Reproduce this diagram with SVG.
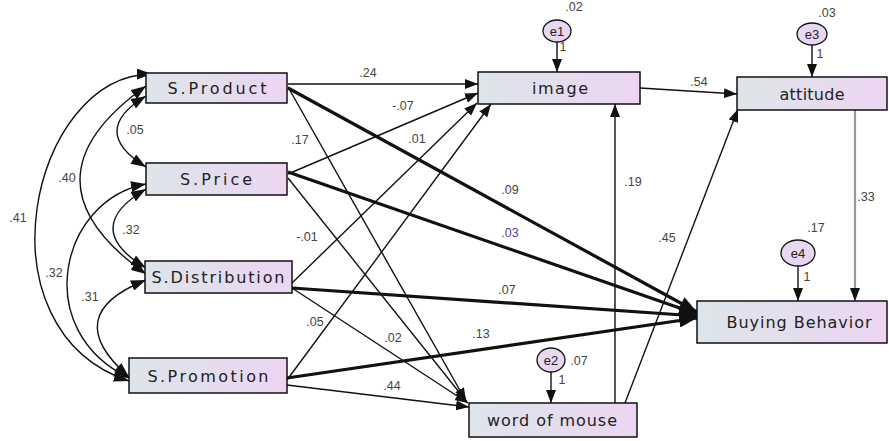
<svg xmlns="http://www.w3.org/2000/svg" width="889" height="441" viewBox="0 0 889 441">
<style>
.box{stroke:#111;stroke-width:1.5;fill:url(#bg)}
.err{stroke:#111;stroke-width:1.3;fill:url(#eg)}
.nt{font-family:"DejaVu Sans","Liberation Sans",Arial,sans-serif;font-size:16px;fill:#222;text-anchor:middle}
.lb{font-family:"Liberation Sans",Arial,sans-serif;font-size:12.5px;fill:#444;text-anchor:middle}
.et{font-family:"Liberation Sans",Arial,sans-serif;font-size:13px;fill:#222;text-anchor:middle}
.thin{stroke:#111;stroke-width:1.4;fill:none;marker-end:url(#a)}
.thick{stroke:#111;stroke-width:3.2;fill:none;marker-end:url(#ab)}
.cov{stroke:#111;stroke-width:1.4;fill:none;marker-start:url(#ac);marker-end:url(#ac)}
</style>
<defs>
<linearGradient id="bg" x1="0" y1="0" x2="1" y2="0">
<stop offset="0" stop-color="#dde5ea"/><stop offset="1" stop-color="#ecd5f2"/>
</linearGradient>
<linearGradient id="eg" x1="0" y1="0" x2="1" y2="1">
<stop offset="0" stop-color="#e2dcef"/><stop offset="1" stop-color="#ecd3f2"/>
</linearGradient>
<marker id="a" markerUnits="userSpaceOnUse" markerWidth="13" markerHeight="10" refX="13" refY="5" orient="auto"><path d="M0,0L13,5L0,10z" fill="#111"/></marker>
<marker id="ab" markerUnits="userSpaceOnUse" markerWidth="18" markerHeight="14" refX="18" refY="7" orient="auto"><path d="M0,0L18,7L0,14z" fill="#111"/></marker>
<marker id="ac" markerUnits="userSpaceOnUse" markerWidth="15" markerHeight="11" refX="15" refY="5.5" orient="auto-start-reverse"><path d="M0,0L15,5.5L0,11z" fill="#111"/></marker>
</defs>
<rect width="889" height="441" fill="#fff"/>
<g id="connectors">
<path class="cov" d="M146,96 Q88,131 146,167"/>
<path class="cov" d="M146,86 Q14,180 146,274"/>
<path class="cov" d="M152,74 C30,75 -25,330 129,381"/>
<path class="cov" d="M146,189 Q80,228 146,268"/>
<path class="cov" d="M146,184 C60,200 30,330 129,378"/>
<path class="cov" d="M146,280 Q58,315 129,377"/>
<line class="thin" x1="288" y1="84" x2="478" y2="84"/>
<line class="thin" x1="288" y1="174" x2="478" y2="93"/>
<line class="thin" x1="292" y1="283" x2="477" y2="103"/>
<line class="thin" x1="287" y1="380" x2="491" y2="104"/>
<line class="thin" x1="288" y1="87" x2="466" y2="401"/>
<line class="thin" x1="288" y1="178" x2="467" y2="402"/>
<line class="thin" x1="292" y1="288" x2="468" y2="403"/>
<line class="thin" x1="287" y1="385" x2="469" y2="407"/>
<line class="thick" x1="288" y1="88" x2="697" y2="312"/>
<line class="thick" x1="288" y1="172" x2="697" y2="314"/>
<line class="thick" x1="292" y1="288" x2="697" y2="316"/>
<line class="thick" x1="287" y1="378" x2="697" y2="318"/>
<line class="thin" x1="640" y1="88" x2="737" y2="94"/>
<line class="thin" x1="615" y1="403" x2="615" y2="104"/>
<line class="thin" x1="625" y1="403" x2="738" y2="109"/>
<line x1="855" y1="110" x2="855" y2="301" stroke="#999" stroke-width="2.2" marker-end="url(#a)"/>
<line class="thin" x1="557" y1="42" x2="557" y2="72"/>
<line class="thin" x1="812" y1="45" x2="812" y2="77"/>
<line class="thin" x1="798" y1="266" x2="798" y2="301"/>
<line class="thin" x1="551" y1="372" x2="551" y2="403"/>
<text class="lb" x="368" y="77">.24</text>
<text class="lb" x="403" y="110">-.07</text>
<text class="lb" x="417" y="143">.01</text>
<text class="lb" x="300" y="144">.17</text>
<text class="lb" x="510" y="194">.09</text>
<text class="lb" x="510" y="237" style="fill:#5b3aa8">.03</text>
<text class="lb" x="307" y="241">-.01</text>
<text class="lb" x="315" y="326">.05</text>
<text class="lb" x="393" y="342">.02</text>
<text class="lb" x="392" y="390">.44</text>
<text class="lb" x="507" y="294">.07</text>
<text class="lb" x="481" y="338">.13</text>
<text class="lb" x="633" y="186">.19</text>
<text class="lb" x="667" y="242">.45</text>
<text class="lb" x="699" y="86">.54</text>
<text class="lb" x="866" y="201">.33</text>
<text class="lb" x="135" y="134">.05</text>
<text class="lb" x="67" y="182">.40</text>
<text class="lb" x="18" y="222">.41</text>
<text class="lb" x="131" y="234">.32</text>
<text class="lb" x="54" y="277">.32</text>
<text class="lb" x="90" y="301">.31</text>
<text class="lb" x="574" y="11">.02</text>
<text class="lb" x="563" y="51">1</text>
<text class="lb" x="827" y="17">.03</text>
<text class="lb" x="820" y="58">1</text>
<text class="lb" x="816" y="232">.17</text>
<text class="lb" x="807" y="281">1</text>
<text class="lb" x="579" y="365">.07</text>
<text class="lb" x="562" y="384">1</text>
</g>
<g id="S.Product"><rect class="box" x="146" y="73" width="141" height="30"/><text class="nt" x="217" y="94" textLength="99" lengthAdjust="spacing">S.Product</text></g>
<g id="S.Price"><rect class="box" x="146" y="163" width="141" height="32"/><text class="nt" x="216" y="185" textLength="72" lengthAdjust="spacing">S.Price</text></g>
<g id="S.Distribution"><rect class="box" x="145" y="261" width="147" height="32"/><text class="nt" x="218" y="283" textLength="133" lengthAdjust="spacing">S.Distribution</text></g>
<g id="S.Promotion"><rect class="box" x="129" y="358" width="158" height="35"/><text class="nt" x="208" y="382" textLength="121" lengthAdjust="spacing">S.Promotion</text></g>
<g id="image"><rect class="box" x="478" y="72" width="162" height="32"/><text class="nt" x="560" y="94" textLength="56" lengthAdjust="spacing">image</text></g>
<g id="attitude"><rect class="box" x="737" y="77" width="150" height="33"/><text class="nt" x="812" y="100" textLength="65" lengthAdjust="spacing">attitude</text></g>
<g id="BuyingBehavior"><rect class="box" x="697" y="301" width="190" height="42"/><text class="nt" x="799" y="328" textLength="145" lengthAdjust="spacing">Buying Behavior</text></g>
<g id="wordOfMouse"><rect class="box" x="469" y="403" width="168" height="34"/><text class="nt" x="552" y="426" textLength="130" lengthAdjust="spacing">word of mouse</text></g>
<g id="e1"><ellipse class="err" cx="557" cy="31" rx="14" ry="11"/><text class="et" x="557" y="36">e1</text></g>
<g id="e3"><ellipse class="err" cx="812" cy="34" rx="15" ry="11"/><text class="et" x="812" y="39">e3</text></g>
<g id="e4"><ellipse class="err" cx="798" cy="253" rx="17" ry="13"/><text class="et" x="798" y="258">e4</text></g>
<g id="e2"><ellipse class="err" cx="551" cy="360" rx="14" ry="12"/><text class="et" x="551" y="365">e2</text></g>
</svg>
